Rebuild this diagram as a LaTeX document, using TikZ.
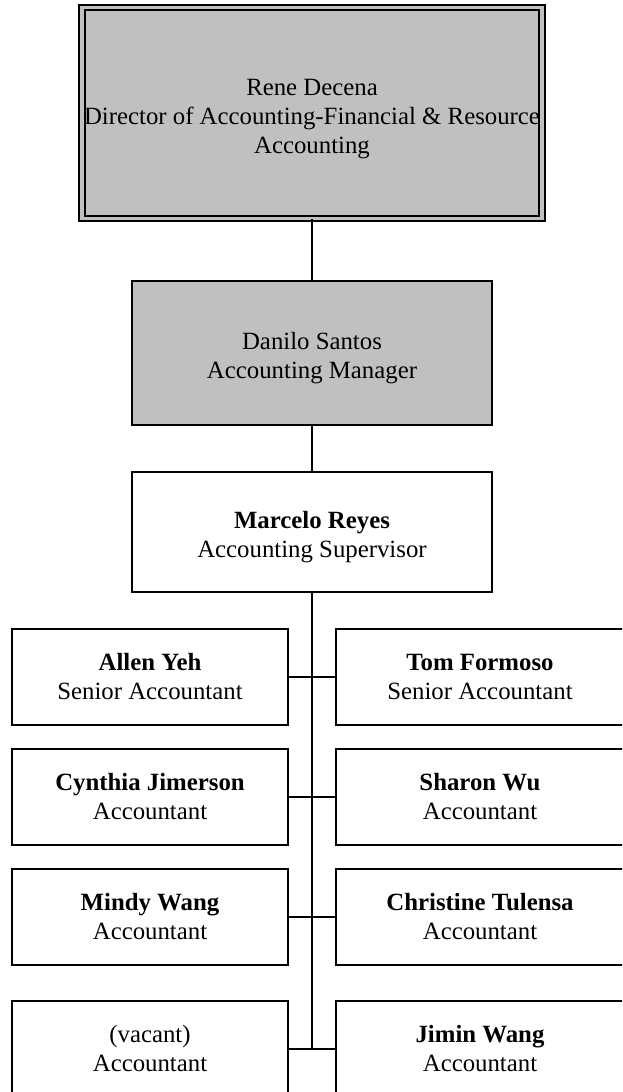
\documentclass[tikz,border=0pt]{standalone}
\usepackage{fontspec}
\usepackage{xcolor}
\setmainfont{Liberation Serif}
\definecolor{boxgray}{HTML}{C0C0C0}
\newcommand{\lowstrut}{\rule{0pt}{27.5pt}}

\begin{document}
\begin{tikzpicture}[x=1pt,y=-1pt]
% Define styles
\tikzstyle{box}=[rectangle, inner sep=0pt, align=center, draw=black, line width=1.8pt, font=\fontsize{24.8}{29}\selectfont]
\tikzstyle{grayBox}=[box, fill=boxgray]
\tikzstyle{topBox}=[grayBox, double=boxgray, double distance=3.6pt]
\tikzstyle{staffBox}=[box, minimum height=96pt]
\tikzstyle{line}=[line width=1.8pt]
\tikzstyle{branch}=[line width=1.3pt]

\useasboundingbox (0,0) rectangle (622,1092);
\clip (0,0) rectangle (622,1092);

% Draw management
\node[topBox, minimum width=460pt, minimum height=211pt] (director) at (312,113) {\lowstrut Rene Decena\\Director of Accounting-Financial \& Resource\\Accounting};
\node[grayBox, minimum width=360pt, minimum height=144pt] (manager) at (312,353) {\lowstrut Danilo Santos\\Accounting Manager};
\node[box, minimum width=360pt, minimum height=120pt] (supervisor) at (312,532) {\lowstrut\textbf{Marcelo Reyes}\\Accounting Supervisor};

% Draw accountants
\node[staffBox, minimum width=276pt] (allen) at (150,677) {\textbf{Allen Yeh}\\Senior Accountant};
\node[staffBox, minimum width=288pt] (tom) at (480,677) {\textbf{Tom Formoso}\\Senior Accountant};
\node[staffBox, minimum width=276pt] (cynthia) at (150,797) {\textbf{Cynthia Jimerson}\\Accountant};
\node[staffBox, minimum width=288pt] (sharon) at (480,797) {\textbf{Sharon Wu}\\Accountant};
\node[staffBox, minimum width=276pt] (mindy) at (150,917) {\textbf{Mindy Wang}\\Accountant};
\node[staffBox, minimum width=288pt] (christine) at (480,917) {\textbf{Christine Tulensa}\\Accountant};
\node[staffBox, minimum width=276pt] (vacant) at (150,1049) {(vacant)\\Accountant};
\node[staffBox, minimum width=288pt] (jimin) at (480,1049) {\textbf{Jimin Wang}\\Accountant};

% Lines
\coordinate (trunkEnd) at (312,1049);
\draw[line] (director) -- (manager);
\draw[line] (manager) -- (supervisor);
\draw[line] (supervisor.south) -- (trunkEnd);
\draw[branch] (allen.east) -- (tom.west);
\draw[branch] (cynthia.east) -- (sharon.west);
\draw[branch] (mindy.east) -- (christine.west);
\draw[branch] (vacant.east) -- (jimin.west);
\end{tikzpicture}
\end{document}
